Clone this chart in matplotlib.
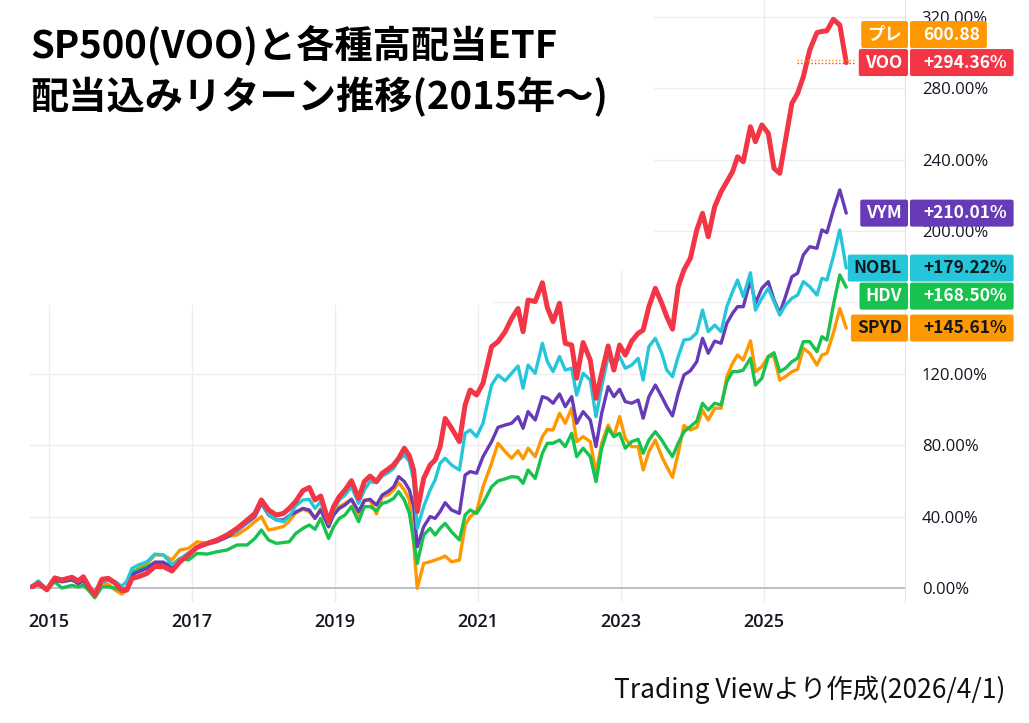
import matplotlib
matplotlib.use('Agg')
import matplotlib.pyplot as plt
from matplotlib.patches import Rectangle, FancyBboxPatch

# monthly closes (decimal years, % return incl. dividends)
dates = [2014.76, 2014.85, 2014.97, 2015.08, 2015.18, 2015.32, 2015.41, 2015.48, 2015.57, 2015.64,
         2015.74, 2015.83, 2015.92, 2016.02, 2016.09, 2016.16, 2016.25, 2016.37, 2016.48, 2016.60,
         2016.72, 2016.83, 2016.95, 2017.07, 2017.21, 2017.35, 2017.49, 2017.63, 2017.77, 2017.88,
         2017.97, 2018.07, 2018.18, 2018.28, 2018.36, 2018.45, 2018.55, 2018.64, 2018.72, 2018.80,
         2018.91, 2018.98, 2019.06, 2019.14, 2019.23, 2019.33, 2019.41, 2019.49, 2019.58, 2019.66,
         2019.74, 2019.82, 2019.89, 2019.97, 2020.04, 2020.10, 2020.15, 2020.24, 2020.33, 2020.40,
         2020.47, 2020.54, 2020.63, 2020.74, 2020.82, 2020.89, 2020.98, 2021.07, 2021.19, 2021.28,
         2021.38, 2021.47, 2021.56, 2021.63, 2021.70, 2021.80, 2021.90, 2021.97, 2022.05, 2022.14,
         2022.22, 2022.31, 2022.38, 2022.47, 2022.57, 2022.65, 2022.73, 2022.82, 2022.90, 2022.98,
         2023.06, 2023.15, 2023.24, 2023.31, 2023.39, 2023.48, 2023.57, 2023.64, 2023.72, 2023.80,
         2023.88, 2023.97, 2024.06, 2024.14, 2024.22, 2024.31, 2024.40, 2024.48, 2024.56, 2024.63,
         2024.71, 2024.81, 2024.88, 2024.97, 2025.06, 2025.14, 2025.22, 2025.30, 2025.39, 2025.47,
         2025.55, 2025.64, 2025.74, 2025.81, 2025.88, 2025.97, 2026.06, 2026.15]

voo = [0.7, 2.6, -1.0, 5.6, 4.5, 6.0, 4.0, 6.3, 0.0, -4.0,
       4.9, 5.4, 3.0, -1.5, -1.1, 5.4, 6.3, 8.2, 12.0, 12.0,
       9.5, 14.7, 18.5, 22.8, 25.0, 26.9, 29.7, 33.4, 38.0, 41.8,
       49.3, 43.7, 40.9, 41.8, 44.6, 48.5, 54.5, 56.3, 49.3, 51.5,
       37.2, 45.6, 51.2, 54.9, 60.1, 50.2, 59.6, 62.7, 59.6, 64.3,
       66.5, 69.0, 72.7, 78.3, 74.0, 66.0, 42.8, 61.4, 68.9, 71.7,
       79.2, 95.0, 89.5, 82.0, 102.6, 110.9, 108.1, 114.7, 135.2, 138.0,
       143.6, 151.0, 156.6, 143.6, 161.3, 160.5, 171.0, 157.0, 149.2, 159.5,
       137.1, 136.1, 117.5, 137.5, 127.7, 106.3, 120.3, 135.6, 122.1, 136.1,
       130.5, 138.3, 142.7, 144.5, 157.6, 167.9, 159.5, 152.0, 145.0, 168.9,
       178.2, 184.7, 200.6, 209.9, 196.8, 213.6, 222.0, 227.6, 233.2, 241.6,
       238.8, 258.4, 250.0, 259.4, 254.7, 235.1, 232.3, 250.9, 271.5, 277.1,
       286.4, 301.4, 311.1, 311.8, 312.2, 318.6, 315.4, 294.36]

vym = [0.5, 2.0, -1.0, 4.5, 3.5, 4.5, 2.5, 4.0, -0.5, -3.5,
       3.5, 4.5, 2.5, -1.0, 0.0, 7.5, 9.0, 11.0, 14.5, 14.5,
       11.0, 16.0, 19.5, 22.5, 24.5, 26.0, 28.5, 32.0, 36.5, 40.0,
       47.4, 41.0, 38.1, 38.1, 40.5, 42.5, 44.6, 43.7, 39.0, 43.7,
       34.3, 40.9, 44.6, 46.5, 49.7, 42.8, 48.9, 49.7, 46.5, 52.1,
       54.0, 56.7, 62.4, 59.6, 54.9, 45.6, 23.1, 34.3, 40.0, 39.0,
       42.8, 47.8, 43.7, 41.8, 63.3, 65.2, 64.3, 73.6, 82.0, 90.0,
       91.3, 92.3, 96.0, 89.5, 98.8, 94.1, 107.2, 106.3, 103.5, 108.7,
       101.6, 107.2, 92.3, 98.8, 94.1, 79.2, 97.9, 112.8, 107.2, 111.3,
       104.4, 103.5, 105.3, 95.1, 107.2, 113.7, 107.2, 101.6, 96.4, 109.1,
       119.3, 121.7, 126.8, 139.9, 131.5, 138.3, 137.1, 148.3, 153.9, 157.6,
       157.6, 172.5, 159.5, 167.9, 171.6, 161.3, 153.9, 163.2, 174.4, 176.3,
       186.6, 191.2, 190.3, 200.6, 199.1, 211.8, 223.0, 210.01]

nobl = [1.0, 4.0, -0.8, 6.0, 4.8, 5.5, 3.6, 5.4, 0.0, -2.5,
        3.5, 4.5, 3.6, 1.0, 4.0, 11.0, 12.9, 14.7, 19.0, 18.5,
        13.0, 16.0, 19.5, 23.0, 25.0, 27.0, 29.5, 32.0, 37.0, 41.0,
        48.3, 41.5, 38.1, 37.2, 40.0, 46.0, 49.3, 49.7, 44.6, 48.3,
        36.2, 43.7, 49.3, 52.1, 56.7, 47.4, 54.9, 59.6, 59.0, 62.7,
        64.5, 67.0, 71.7, 74.5, 70.8, 60.5, 33.4, 45.6, 54.9, 60.5,
        69.9, 72.7, 68.9, 66.1, 86.7, 88.5, 84.8, 92.3, 113.7, 119.3,
        116.1, 120.3, 124.4, 111.9, 124.9, 120.3, 137.1, 126.8, 121.2, 129.7,
        122.1, 123.1, 108.1, 120.3, 116.5, 96.0, 112.8, 129.7, 124.0, 129.7,
        123.1, 124.9, 128.7, 116.5, 135.2, 139.9, 131.5, 122.1, 118.4, 129.7,
        138.9, 139.5, 143.0, 155.7, 143.6, 147.3, 143.6, 157.6, 166.0, 172.5,
        163.2, 176.6, 155.7, 162.3, 167.9, 160.4, 152.9, 158.5, 162.3, 164.1,
        171.6, 168.8, 164.1, 173.5, 172.5, 185.7, 200.6, 179.22]

hdv = [0.3, 2.2, -1.0, 3.5, 0.0, 1.5, 0.7, 1.6, -2.0, -5.5,
       0.7, 0.7, 0.0, -1.5, 0.0, 9.1, 10.1, 12.0, 13.8, 13.8,
       12.9, 16.6, 15.7, 19.4, 19.0, 20.3, 21.3, 24.1, 24.1, 27.8,
       32.5, 26.9, 25.0, 25.5, 25.9, 30.5, 33.4, 35.3, 32.9, 39.0,
       27.8, 34.3, 39.0, 40.9, 45.6, 37.2, 45.6, 45.6, 43.3, 47.4,
       48.3, 50.2, 54.0, 49.3, 41.8, 26.9, 13.8, 29.7, 33.4, 29.7,
       33.4, 36.2, 31.5, 26.9, 40.9, 43.7, 41.8, 47.4, 56.7, 60.0,
       61.1, 62.4, 62.0, 58.7, 66.1, 61.4, 75.5, 81.1, 81.1, 82.9,
       79.2, 86.7, 73.6, 78.3, 73.6, 59.6, 78.3, 89.5, 84.8, 86.7,
       78.3, 82.0, 83.3, 75.5, 82.9, 87.6, 82.9, 78.3, 73.6, 81.1,
       87.5, 90.4, 93.5, 103.5, 99.7, 103.5, 102.5, 115.6, 121.2, 121.2,
       122.1, 128.7, 113.7, 117.5, 129.7, 131.8, 121.2, 123.1, 126.8, 128.7,
       138.0, 138.0, 132.4, 140.8, 138.9, 158.5, 175.4, 168.50]

spyd = [0.5, 2.5, -1.0, 5.0, 4.0, 5.0, 3.0, 4.5, -0.5, -3.5,
        3.0, 2.0, -1.0, -3.4, -1.1, 7.3, 11.0, 13.4, 18.5, 18.5,
        15.7, 21.3, 22.2, 25.9, 25.0, 26.9, 28.8, 29.7, 33.4, 37.2,
        40.0, 32.5, 33.4, 34.5, 37.5, 42.0, 44.1, 42.8, 39.0, 44.6,
        34.3, 41.8, 45.6, 47.4, 49.7, 40.9, 49.3, 49.3, 41.5, 51.2,
        52.1, 54.9, 59.0, 54.9, 49.3, 25.0, -0.2, 13.8, 14.7, 15.7,
        16.6, 17.9, 14.7, 15.7, 35.3, 40.0, 42.8, 56.7, 69.9, 81.1,
        76.4, 72.7, 76.9, 72.3, 78.3, 73.6, 84.8, 88.9, 88.5, 97.9,
        92.3, 100.7, 82.0, 84.8, 82.0, 64.3, 81.1, 91.3, 84.8, 96.0,
        83.8, 79.2, 79.2, 66.1, 76.4, 82.9, 73.6, 68.0, 62.0, 75.5,
        91.0, 88.5, 90.0, 99.7, 94.1, 100.7, 100.7, 118.4, 125.9, 130.5,
        127.7, 138.5, 121.2, 124.0, 129.7, 129.7, 116.5, 118.4, 121.2, 122.5,
        134.3, 131.5, 124.9, 130.5, 131.5, 142.7, 156.6, 145.61]

pre_price = 600.88
year_ticks = [2015, 2017, 2019, 2021, 2023, 2025]
pct_ticks = [0, 40, 80, 120, 160, 200, 240, 280, 320]
hidden_ticks = [160]  # covered by the value labels in the original

series = [('SPYD', spyd, '#ff9800', 2.4),
          ('HDV', hdv, '#17c24f', 2.4),
          ('VYM', vym, '#673ab7', 2.4),
          ('NOBL', nobl, '#26c6da', 2.4),
          ('VOO', voo, '#f23645', 3.6)]
text_col = {'SPYD': '#131722', 'HDV': 'white', 'VYM': 'white', 'NOBL': '#131722', 'VOO': 'white'}

W, H = 1029, 723
fig = plt.figure(figsize=(W / 100, H / 100), dpi=100)
ax = fig.add_axes([30 / W, 121 / H, 875 / W, 602 / H])
ax.set_xlim(2014.734, 2026.972)
ax.set_ylim(-7.84, 329.4)

#grid
for y in pct_ticks[1:]:
    ax.axhline(y, color='#ededed', lw=1, zorder=0)
for x in year_ticks:
    ax.axvline(x, color='#ededed', lw=1, zorder=0)
ax.axhline(0, color='#b2b5be', lw=1.2, zorder=1)

#white areas where the original legend was blanked out
ax.add_patch(Rectangle((0, 0.4934), 0.529, 0.51, transform=ax.transAxes,
                       facecolor='white', edgecolor='none', zorder=1.5))
ax.add_patch(Rectangle((0, 0.5515), 0.713, 0.45, transform=ax.transAxes,
                       facecolor='white', edgecolor='none', zorder=1.5))

#lines
for name, vals, col, lw in series:
    ax.plot(dates, vals, color=col, lw=lw, zorder=3, solid_joinstyle='round',
            solid_capstyle='round')

for s in ['top', 'left', 'bottom']:
    ax.spines[s].set_visible(False)
ax.spines['right'].set_color('#e0e3eb')
ax.yaxis.tick_right()
ax.set_yticks(pct_ticks)
ax.set_yticklabels(['' if v in hidden_ticks else f'{v:.2f}%' for v in pct_ticks],
                   fontsize=12, color='#131722', family='Open Sans')
ax.set_xticks(year_ticks)
ax.set_xticklabels([str(y) for y in year_ticks], fontsize=13, color='#131722',
                   family='Open Sans', fontweight='semibold')
ax.tick_params(axis='both', length=0)
ax.tick_params(axis='y', pad=12)
ax.tick_params(axis='x', pad=8)

#title & source
jp = ['Noto Sans CJK JP', 'DejaVu Sans']
fig.text(30 / W, 1 - 45 / H, 'SP500(VOO)と各種高配当ETF', family=jp, fontsize=27.5,
         fontweight='bold', va='center', ha='left')
fig.text(30 / W, 1 - 97 / H, '配当込みリターン推移(2015年～)', family=jp, fontsize=27.5,
         fontweight='bold', va='center', ha='left')
fig.text(1005 / W, 1 - 690 / H, 'Trading Viewより作成(2026/4/1)', family=jp, fontsize=19,
         va='center', ha='right', color='#111111')

#right side value labels
ov = fig.add_axes([0, 0, 1, 1], zorder=5)
ov.set_xlim(0, W)
ov.set_ylim(H, 0)
ov.axis('off')
fig.canvas.draw()
rend = fig.canvas.get_renderer()


def img_y(v):
    return H - ax.transData.transform((2020, v))[1]


bh = 28
labels = sorted([(img_y(vals[-1]), name, vals[-1], col) for name, vals, col, lw in series])
placed = []
last = -1e9
for y, name, v, col in labels:
    y = max(y, last + bh)
    placed.append((y, name, v, col))
    last = y


def draw_label(y, left_txt, right_txt, col, tcol):
    t1 = ov.text(902, y, left_txt, ha='right', va='center', color=tcol, fontsize=12.5,
                 family=jp, fontweight='bold', zorder=6)
    t2 = ov.text(923, y, right_txt, ha='left', va='center', color=tcol, fontsize=12.5,
                 family=jp, fontweight='bold', zorder=6)
    b1 = t1.get_window_extent(rend)
    b2 = t2.get_window_extent(rend)
    x0 = b1.x0 - 6
    ov.add_patch(FancyBboxPatch((x0, y - bh / 2 + 0.5), 908 - x0, bh - 1,
                                boxstyle='round,pad=0,rounding_size=2', fc=col, ec='none', zorder=5))
    ov.add_patch(FancyBboxPatch((910, y - bh / 2 + 0.5), b2.x1 + 7 - 910, bh - 1,
                                boxstyle='round,pad=0,rounding_size=2', fc=col, ec='none', zorder=5))


for y, name, v, col in placed:
    draw_label(y, name, f'{v:+.2f}%', col, text_col[name])
    if name == 'VOO':
        draw_label(y - bh, 'プレ', f'{pre_price:.2f}', '#ff9800', 'white')
        ov.plot([797, 856], [y - 3, y - 3], color='#ff9800', lw=1, ls=(0, (1, 1.5)), zorder=4)
        ov.plot([797, 856], [y, y], color='#f23645', lw=1, ls=(0, (1, 1.5)), zorder=4)

fig.savefig('out.png', dpi=100)
